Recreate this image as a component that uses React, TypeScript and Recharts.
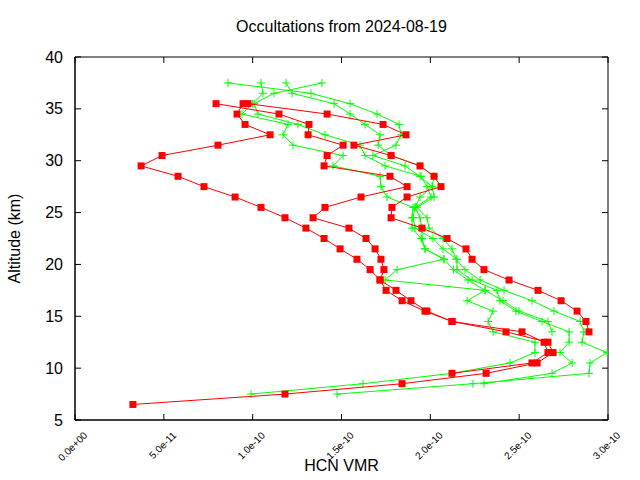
import React from 'react';
import { ScatterChart, Scatter, XAxis, YAxis, ReferenceArea } from 'recharts';

// x values in units of 1e-11 (VMR), altitudes in km
const X_TICKS = [0, 5, 10, 15, 20, 25, 30];
const Y_TICKS = [5, 10, 15, 20, 25, 30, 35, 40];
const X_UNIT = 1e-11;

const redA_alt = [35.5, 34.5, 33.5, 32.5, 31.5, 30.5, 29.5, 28.5, 27.5, 26.5, 25.5, 24.5, 23.5, 22.5, 21.5, 20.5, 19.5, 18.5, 17.5, 16.5, 15.5, 14.5, 13.5, 12.5, 11.5, 10.5, 9.5, 8.5, 7.5, 6.5];
const redA_vmr = [9.46, 9.12, 9.57, 10.98, 8.05, 4.90, 3.72, 5.80, 7.26, 9.01, 10.47, 11.82, 13.00, 14.02, 14.92, 15.87, 16.61, 17.17, 17.51, 18.41, 19.70, 21.22, 24.26, 26.62, 26.91, 26.01, 23.14, 18.41, 11.82, 3.26];

const redB_alt = [35.5, 34.5, 33.5, 32.5, 31.5, 30.5, 29.5, 28.5, 27.5, 26.5, 25.5, 24.5, 23.5, 22.5, 21.5, 20.5, 19.5, 18.5, 17.5, 16.5, 15.5, 14.5, 13.5, 12.5, 11.5, 10.5, 9.5];
const redB_vmr = [7.94, 11.48, 13.17, 13.12, 15.09, 14.19, 14.02, 17.73, 18.69, 16.10, 14.07, 13.40, 15.42, 16.38, 16.89, 17.22, 17.39, 17.17, 18.07, 18.91, 19.81, 21.22, 25.16, 26.40, 26.62, 25.72, 21.22];

const redC_alt = [35.5, 34.5, 33.5, 32.5, 31.5, 30.5, 29.5, 28.5, 27.5, 26.5, 25.5, 24.5, 23.5, 22.5, 21.5, 20.5, 19.5, 18.5, 17.5, 16.5, 15.5, 14.5, 13.5];
const redC_vmr = [9.74, 14.19, 17.34, 18.63, 15.70, 17.79, 19.42, 20.21, 20.60, 18.69, 17.84, 17.79, 19.53, 20.94, 22.01, 22.35, 23.02, 24.43, 26.06, 27.36, 28.26, 28.76, 28.93];

const greenA_alt = [37.5, 36.5, 35.5, 34.5, 33.5, 32.5, 31.5, 30.5, 29.5, 28.5, 27.5, 26.5, 25.5, 24.5, 23.5, 22.5, 21.5, 20.5, 19.5, 18.5, 17.5, 16.5, 15.5, 14.5, 13.5, 12.5, 11.5, 10.5, 9.5, 8.5, 7.5];
const greenA_vmr = [8.61, 13.28, 15.48, 17.00, 18.24, 18.35, 18.07, 16.77, 18.58, 19.42, 20.10, 20.21, 19.25, 19.81, 19.93, 20.71, 21.22, 21.45, 21.95, 22.80, 24.15, 25.72, 26.96, 28.43, 28.65, 28.54, 29.95, 28.99, 28.93, 22.40, 14.75];

const greenB_alt = [37.5, 36.5, 35.5, 34.5, 33.5, 32.5, 31.5, 30.5, 29.5, 28.5, 27.5, 26.5, 25.5, 24.5, 23.5, 22.5, 21.5, 20.5, 19.5, 18.5, 17.5, 16.5, 15.5, 14.5, 13.5, 12.5, 11.5, 10.5, 9.5, 8.5];
const greenB_vmr = [13.90, 11.20, 10.08, 10.30, 12.55, 14.07, 16.04, 16.32, 17.45, 19.48, 19.81, 20.04, 19.14, 19.03, 19.14, 20.15, 20.71, 21.50, 21.50, 22.35, 23.75, 23.92, 24.82, 26.29, 27.81, 27.81, 27.30, 27.98, 26.85, 23.02];

const greenC_alt = [37.5, 36.5, 35.5, 34.5, 33.5, 32.5, 31.5, 30.5, 29.5, 28.5, 27.5, 26.5, 25.5, 24.5, 23.5, 22.5, 21.5, 20.5, 19.5, 18.5, 17.5, 16.5, 15.5, 14.5, 13.5, 12.5, 11.5, 10.5, 9.5, 8.5, 7.5];
const greenC_vmr = [10.47, 10.58, 10.00, 9.40, 11.99, 11.71, 12.27, 15.09, 14.52, 17.17, 17.22, 17.56, 19.03, 18.97, 18.97, 19.48, 19.70, 20.77, 21.30, 22.12, 23.08, 22.07, 23.53, 23.25, 23.53, 25.89, 25.89, 24.49, 21.22, 16.21, 9.91];

const greenD_alt = [37.5, 36.5, 35.5, 34.5, 33.5, 32.5, 31.5, 30.5, 29.5, 28.5, 27.5, 26.5, 25.5, 24.5, 23.5, 22.5, 21.5, 20.5, 19.5, 18.5, 17.5, 16.5, 15.5, 14.5, 13.5];
const greenD_vmr = [11.88, 12.22, 14.58, 15.48, 16.32, 17.17, 17.06, 17.79, 19.42, 20.21, 20.10, 19.42, 19.14, 19.42, 19.53, 19.53, 19.70, 20.77, 18.13, 17.45, 23.08, 24.09, 24.99, 26.62, 26.85];

const RED = '#ff0000';
const GREEN = '#00ff00';
const FONT = '"Liberation Sans", Arial, sans-serif';

const W = 640;
const H = 480;
const PLOT_LEFT = 75;
const PLOT_RIGHT = 608;
const PLOT_TOP = 57;
const PLOT_BOTTOM = 420;
const TICK = 6;

const build = (alt: number[], vmr: number[]) => alt.map((a, i) => ({ alt: a, v: vmr[i] }));

const redSeries = [build(redA_alt, redA_vmr), build(redB_alt, redB_vmr), build(redC_alt, redC_vmr)];
const greenSeries = [
  build(greenA_alt, greenA_vmr),
  build(greenB_alt, greenB_vmr),
  build(greenC_alt, greenC_vmr),
  build(greenD_alt, greenD_vmr),
];

const fmtX = (v: number) => {
  const s = (v * X_UNIT).toExponential(1);
  return s.replace(/e([+-])(\d)$/, 'e$10$2');
};

const Square = (props: any) => {
  const { cx, cy } = props;
  if (cx == null || cy == null) return null;
  return <rect x={cx - 3.5} y={cy - 3.5} width={7} height={7} fill={RED} />;
};

const Plus = (props: any) => {
  const { cx, cy } = props;
  if (cx == null || cy == null) return null;
  return (
    <g stroke={GREEN} strokeWidth={1}>
      <line x1={cx - 4} y1={cy} x2={cx + 4} y2={cy} />
      <line x1={cx} y1={cy - 4} x2={cx} y2={cy + 4} />
    </g>
  );
};

const XTick = (props: any) => {
  const { x, y, payload } = props;
  const ax = x + 13;
  const ay = y + 16;
  return (
    <g>
      <line x1={x} y1={y} x2={x} y2={y - TICK} stroke="#000" />
      <line x1={x} y1={PLOT_TOP} x2={x} y2={PLOT_TOP + TICK} stroke="#000" />
      <text
        x={ax}
        y={ay}
        textAnchor="end"
        fontSize={10}
        fontFamily={FONT}
        fill="#000"
        transform={`rotate(-45 ${ax} ${ay})`}
      >
        {fmtX(payload.value)}
      </text>
    </g>
  );
};

const YTick = (props: any) => {
  const { x, y, payload } = props;
  return (
    <g>
      <line x1={x} y1={y} x2={x + TICK} y2={y} stroke="#000" />
      <line x1={PLOT_RIGHT} y1={y} x2={PLOT_RIGHT - TICK} y2={y} stroke="#000" />
      <text x={x - 12} y={y} dy="0.35em" textAnchor="end" fontSize={16} fontFamily={FONT} fill="#000">
        {payload.value}
      </text>
    </g>
  );
};

export default function App() {
  return (
    <div style={{ position: 'absolute', left: 0, top: 0, width: W, height: H, background: '#fff' }}>
      <ScatterChart
        width={W}
        height={H}
        margin={{ top: PLOT_TOP, right: W - PLOT_RIGHT, bottom: 0, left: PLOT_LEFT - 40 }}
      >
        <XAxis
          type="number"
          dataKey="v"
          domain={[0, 30]}
          ticks={X_TICKS}
          interval={0}
          height={H - PLOT_BOTTOM}
          tickSize={0}
          tickMargin={0}
          tickLine={false}
          axisLine={{ stroke: '#000' }}
          tick={<XTick />}
          allowDataOverflow
        />
        <YAxis
          type="number"
          dataKey="alt"
          domain={[5, 40]}
          ticks={Y_TICKS}
          interval={0}
          width={40}
          tickSize={0}
          tickMargin={0}
          tickLine={false}
          axisLine={{ stroke: '#000' }}
          tick={<YTick />}
          allowDataOverflow
        />
        <ReferenceArea x1={0} x2={30} y1={5} y2={40} fill="none" stroke="#000" strokeWidth={1} ifOverflow="visible" />
        {greenSeries.map((d, i) => (
          <Scatter
            key={`g${i}`}
            data={d}
            line={{ stroke: GREEN, strokeWidth: 1 }}
            lineType="joint"
            shape={<Plus />}
            fill={GREEN}
            isAnimationActive={false}
          />
        ))}
        {redSeries.map((d, i) => (
          <Scatter
            key={`r${i}`}
            data={d}
            line={{ stroke: RED, strokeWidth: 1 }}
            lineType="joint"
            shape={<Square />}
            fill={RED}
            isAnimationActive={false}
          />
        ))}
      </ScatterChart>
      <svg
        width={W}
        height={H}
        style={{ position: 'absolute', left: 0, top: 0, pointerEvents: 'none' }}
      >
        <text x={(PLOT_LEFT + PLOT_RIGHT) / 2} y={32} textAnchor="middle" fontSize={16} fontFamily={FONT} fill="#000">
          Occultations from 2024-08-19
        </text>
        <text x={(PLOT_LEFT + PLOT_RIGHT) / 2} y={471} textAnchor="middle" fontSize={16} fontFamily={FONT} fill="#000">
          HCN VMR
        </text>
        <text
          x={20}
          y={(PLOT_TOP + PLOT_BOTTOM) / 2}
          textAnchor="middle"
          fontSize={16}
          fontFamily={FONT}
          fill="#000"
          transform={`rotate(-90 20 ${(PLOT_TOP + PLOT_BOTTOM) / 2})`}
        >
          Altitude (km)
        </text>
      </svg>
    </div>
  );
}
